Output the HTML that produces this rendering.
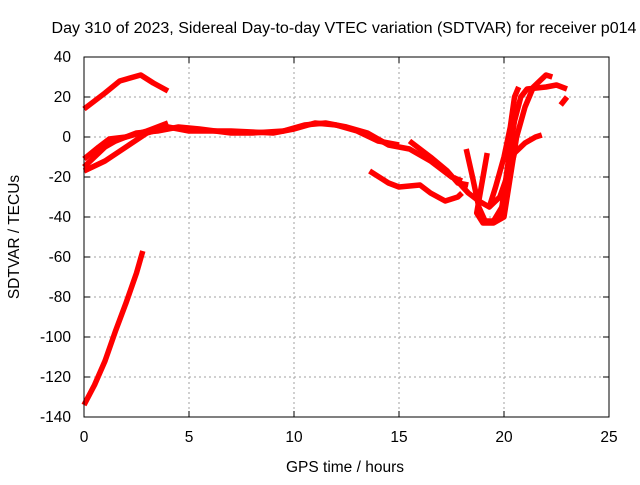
<!DOCTYPE html>
<html><head><meta charset="utf-8"><style>
body{margin:0;background:#fff}
svg text{font-family:"Liberation Sans",sans-serif;font-size:15.5px;fill:#000}
</style></head><body>
<svg id="chart" width="640" height="480">
<g id="grid"></g>
<g id="series"></g>
<g id="axes"></g>
<text x="344" y="33" text-anchor="middle" textLength="585" lengthAdjust="spacingAndGlyphs">Day 310 of 2023, Sidereal Day-to-day VTEC variation (SDTVAR) for receiver p014</text>
<text x="345" y="472" text-anchor="middle">GPS time / hours</text>
<text transform="translate(19,237) rotate(-90)" text-anchor="middle">SDTVAR / TECUs</text>
</svg>
<script>
const xTicks=[0,5,10,15,20,25];
const yTicks=[40,20,0,-20,-40,-60,-80,-100,-120,-140];
const seriesA=[[0,14],[1,22],[1.7,28],[2.7,31],[3.3,27],[4,23]];
const seriesB=[[0,-134],[0.5,-124],[1,-112],[1.5,-97],[2,-83],[2.5,-68],[2.8,-57]];
const seriesC=[[0,-15],[0.5,-10],[1,-5],[1.5,-2],[2.5,2],[3.5,3],[4.5,5],[5.5,4],[7,2],[8,2],[9.5,3],[10.5,6],[11.5,7],[12.5,5],[13.5,2],[14.5,-4],[15.5,-6],[16.5,-12],[17.5,-20],[18,-22]];
const seriesC2=[[0,-17],[1,-12],[2,-5],[3,2],[4,5],[5,3],[7,3],[9,2],[10,4],[11,7],[12,6],[13,3],[14,-2],[15,-4]];
const seriesC3=[[0,-11],[0.7,-5],[1.2,-1],[2,0],[3,3],[4,7]];
const seriesD=[[13.6,-17],[14.5,-23],[15,-25],[16,-24],[16.5,-28],[17.2,-32],[17.8,-30],[18,-28]];
const seriesE=[[15.5,-2],[16.5,-10],[17.3,-17],[17.8,-23],[18.3,-24]];
const seriesF1=[[18.2,-6],[18.5,-20],[18.8,-35],[19.1,-42],[19.5,-42],[19.9,-35],[20.1,-20],[20.3,-5],[20.5,8],[20.8,20],[21.1,24],[22,25],[22.5,26],[23,24]];
const seriesF2=[[19.2,-8],[19,-20],[18.7,-38],[19,-43],[19.5,-43],[20,-40],[20.3,-20],[20.6,0],[21,15],[21.4,25],[22,31],[22.3,30]];
const seriesF3=[[19.3,-35],[19.6,-25],[20,-10],[20.3,5],[20.5,20],[20.7,25]];
const seriesF4=[[19.8,-40],[20.2,-20],[20.5,-8],[21,-3],[21.5,0],[21.8,1]];
const seriesF5=[[22.7,16],[23,20]];
const seriesF6=[[17.6,-20],[18.3,-28],[18.8,-32],[19.3,-35],[19.8,-30],[20.2,-18],[20.5,-5]];
const allSeries=[seriesA,seriesB,seriesC,seriesC2,seriesC3,seriesD,seriesE,seriesF1,seriesF2,seriesF3,seriesF4,seriesF5,seriesF6];
const X0=84,X1=609,Y0=57,Y1=417,xmin=0,xmax=25,ymin=-140,ymax=40;
const sx=h=>X0+(h-xmin)/(xmax-xmin)*(X1-X0);
const sy=v=>Y1-(v-ymin)/(ymax-ymin)*(Y1-Y0);
const NS="http://www.w3.org/2000/svg";
function mk(t,a,p){const e=document.createElementNS(NS,t);for(const k in a)e.setAttribute(k,a[k]);p.appendChild(e);return e;}
const grid=document.getElementById('grid'),axes=document.getElementById('axes'),ser=document.getElementById('series');
xTicks.forEach(t=>{const x=sx(t);
 if(t>xmin&&t<xmax){const g=mk('line',{x1:x,x2:x,y1:Y0,y2:Y1,stroke:'#a0a0a0','stroke-dasharray':'2,3'},grid);
 }
 mk('line',{x1:x,x2:x,y1:Y1,y2:Y1-6,stroke:'#000'},axes);mk('line',{x1:x,x2:x,y1:Y0,y2:Y0+6,stroke:'#000'},axes);
 const tx=mk('text',{x:x,y:Y1+25,'text-anchor':'middle'},axes);tx.textContent=t;
 });
yTicks.forEach(t=>{const y=sy(t);
 if(t>ymin&&t<ymax){const g=mk('line',{x1:X0,x2:X1,y1:y,y2:y,stroke:'#a0a0a0','stroke-dasharray':'2,3'},grid);
 }
 mk('line',{x1:X0,x2:X0+6,y1:y,y2:y,stroke:'#000'},axes);mk('line',{x1:X1,x2:X1-6,y1:y,y2:y,stroke:'#000'},axes);
 const tx=mk('text',{x:X0-13,y:y+5,'text-anchor':'end'},axes);tx.textContent=t;
 });
const b=mk('rect',{x:X0,y:Y0,width:X1-X0,height:Y1-Y0,fill:'none',stroke:'#000'},axes);

allSeries.forEach(s=>{const p=mk('polyline',{points:s.map(d=>sx(d[0])+','+sy(d[1])).join(' '),fill:'none',stroke:'#ff0000','stroke-width':5.5,'stroke-linejoin':'round'},ser);
 });
</script>
</body></html>
